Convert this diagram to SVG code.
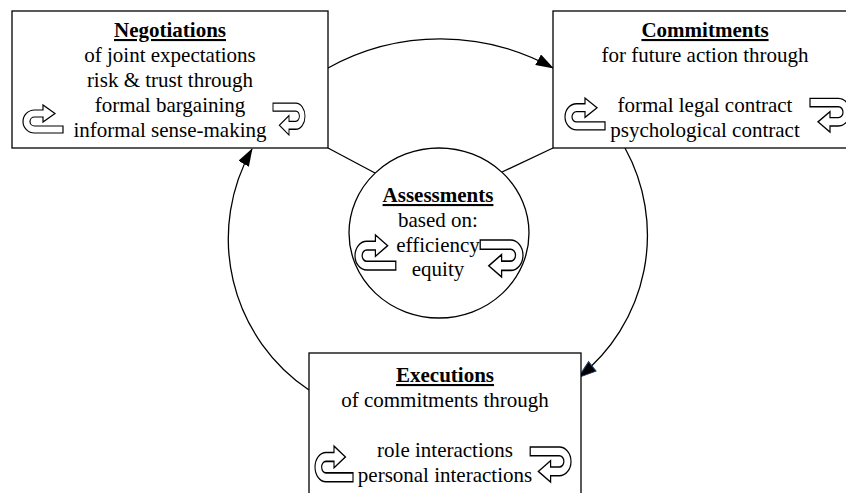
<svg xmlns="http://www.w3.org/2000/svg" xmlns:xlink="http://www.w3.org/1999/xlink" width="846" height="493" viewBox="0 0 846 493">
<style>
.box{fill:#fff;stroke:#000;stroke-width:1.3}
.t{font-family:"Liberation Serif","Times New Roman",serif;font-size:21px;fill:#000;text-anchor:middle}
.h{font-weight:bold;text-decoration:underline}
.icon{fill:#fff;stroke:#000;stroke-width:1.2;stroke-linejoin:miter}
.conn{fill:none;stroke:#000;stroke-width:1.3}
</style>
<defs>
<path id="uturn" d="M40,28 L11.5,28 A11.5,11.5 0 0 1 11.5,5 L20,5 L20,0 L32,8.5 L20,17 L20,12 L11.5,12 A4.5,4.5 0 0 0 11.5,21 L40,21 Z"/>
<marker id="ah" viewBox="0 0 18 12" refX="17" refY="6" markerWidth="18" markerHeight="12" markerUnits="userSpaceOnUse" orient="auto">
<path d="M0,0 L18,6 L0,12 Z" fill="#000"/>
</marker>
<marker id="ahb" viewBox="0 0 20 14" refX="18" refY="7" markerWidth="20" markerHeight="14" markerUnits="userSpaceOnUse" orient="auto">
<path d="M1,1 L19,7 L1,13 Z" fill="#000" stroke="#1f3b70" stroke-width="1"/>
</marker>
</defs>

<g id="connectors">
<path class="conn" d="M328,68 A232,232 0 0 1 553,68" marker-end="url(#ah)"/>
<path class="conn" d="M625,148 A181,181 0 0 1 579,377" marker-end="url(#ahb)"/>
<path class="conn" d="M309,390 A182,182 0 0 1 252,149" marker-end="url(#ah)"/>
<line class="conn" x1="328" y1="148" x2="375" y2="173"/>
<line class="conn" x1="553" y1="148" x2="502" y2="172"/>
</g>

<g id="negotiations">
<rect class="box" x="12" y="11" width="316" height="137"/>
<text class="t h" x="170" y="37">Negotiations</text>
<text class="t" x="170" y="62">of joint expectations</text>
<text class="t" x="170" y="87">risk &amp; trust through</text>
<text class="t" x="170" y="112">formal bargaining</text>
<text class="t" x="170" y="137">informal sense-making</text>
<use xlink:href="#uturn" class="icon" transform="translate(23,105)"/>
<use xlink:href="#uturn" class="icon" vector-effect="non-scaling-stroke" transform="translate(305,135) rotate(180) scale(0.8,1.14)"/>
</g>

<g id="commitments">
<rect class="box" x="553" y="11" width="310" height="137"/>
<text class="t h" x="705" y="37">Commitments</text>
<text class="t" x="705" y="62">for future action through</text>
<text class="t" x="705" y="112">formal legal contract</text>
<text class="t" x="705" y="137">psychological contract</text>
<use xlink:href="#uturn" class="icon" transform="translate(565,98) scale(1,1.14)"/>
<use xlink:href="#uturn" class="icon" transform="translate(850,132) rotate(180) scale(1,1.2)"/>
</g>

<g id="assessments">
<ellipse class="box" cx="439" cy="233" rx="90" ry="85"/>
<text class="t h" x="438" y="202">Assessments</text>
<text class="t" x="438" y="227">based on:</text>
<text class="t" x="438" y="252">efficiency</text>
<text class="t" x="438" y="276">equity</text>
<use xlink:href="#uturn" class="icon" transform="translate(355,235) scale(1.02,1.25)"/>
<use xlink:href="#uturn" class="icon" transform="translate(523,277) rotate(180) scale(1.07,1.32)"/>
</g>

<g id="executions">
<rect class="box" x="309" y="353" width="272" height="150"/>
<text class="t h" x="445" y="382">Executions</text>
<text class="t" x="445" y="407">of commitments through</text>
<text class="t" x="445" y="457">role interactions</text>
<text class="t" x="445" y="482">personal interactions</text>
<use xlink:href="#uturn" class="icon" transform="translate(315,446) scale(0.95,1.28)"/>
<use xlink:href="#uturn" class="icon" transform="translate(571,482) rotate(180) scale(1.02,1.25)"/>
</g>
</svg>
